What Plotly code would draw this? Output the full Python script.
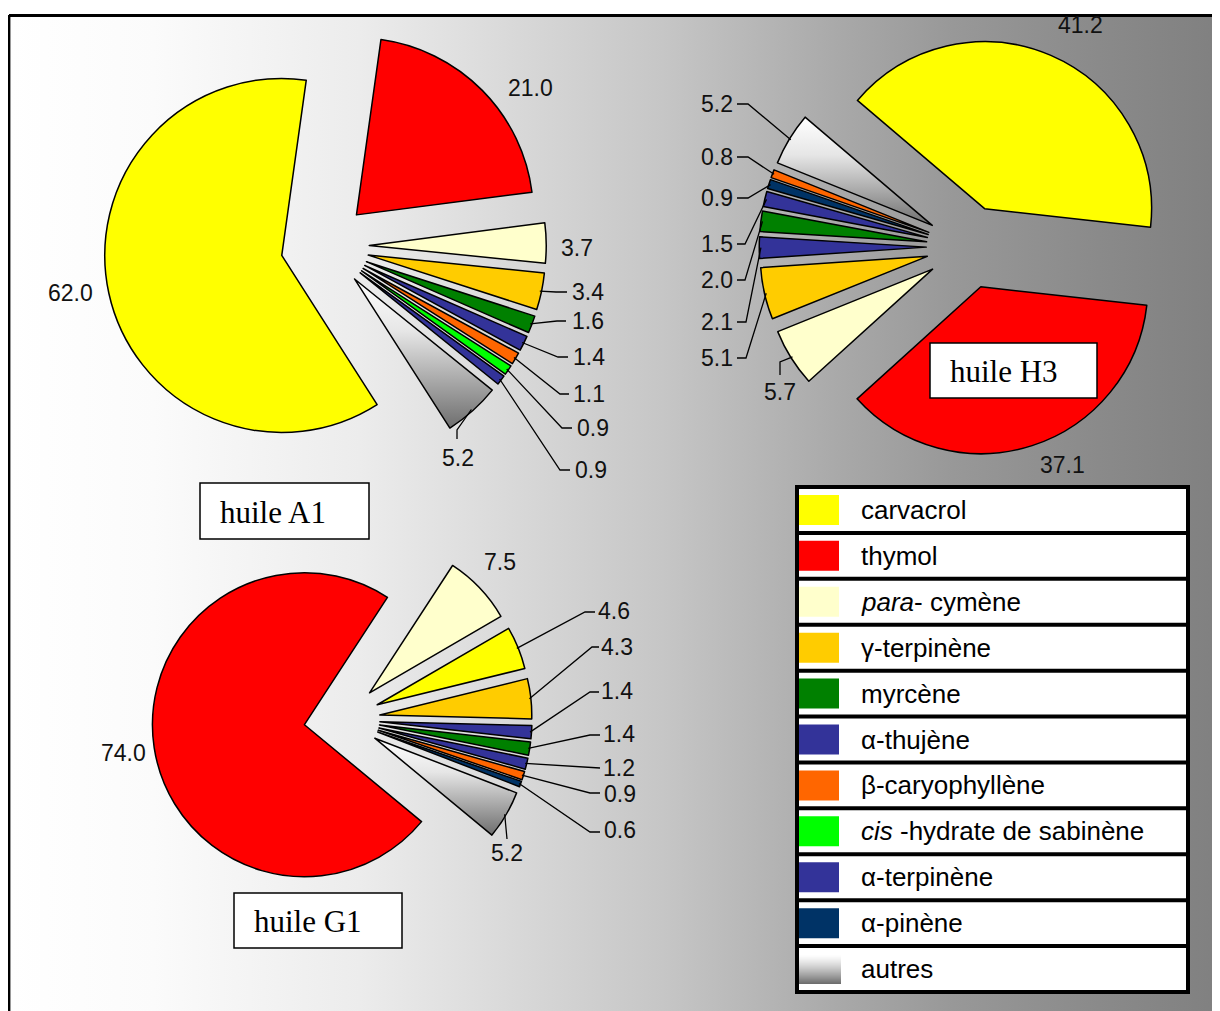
import math
import numpy as np
import plotly.graph_objects as go

# ---------------- data ----------------
CATEGORIES = ["carvacrol", "thymol", "para-cymène", "γ-terpinène", "myrcène",
              "α-thujène", "β-caryophyllène", "cis-hydrate de sabinène",
              "α-terpinène", "α-pinène", "autres"]
LEGEND_TEXT = ["carvacrol", "thymol", "<i>para</i>- cymène", "γ-terpinène", "myrcène",
               "α-thujène", "β-caryophyllène", "<i>cis</i> -hydrate de sabinène",
               "α-terpinène", "α-pinène", "autres"]
CATEGORY_COLORS = ["#FFFF00", "#FF0000", "#FFFFCC", "#FFCC00", "#008000",
                   "#333399", "#FF6600", "#00FF00", "#333399", "#003366", "GRADIENT"]

A1_COMPONENTS = ["carvacrol", "thymol", "para-cymène", "γ-terpinène", "myrcène", "α-thujène",
                 "β-caryophyllène", "cis-hydrate de sabinène", "α-terpinène", "autres"]
A1_VALUES = [62.0, 21.0, 3.7, 3.4, 1.6, 1.4, 1.1, 0.9, 0.9, 5.2]

H3_COMPONENTS = ["carvacrol", "thymol", "para-cymène", "γ-terpinène", "α-terpinène", "myrcène",
                 "α-thujène", "α-pinène", "β-caryophyllène", "autres"]
H3_VALUES = [41.2, 37.1, 5.7, 5.1, 2.1, 2.0, 1.5, 0.9, 0.8, 5.2]

G1_COMPONENTS = ["thymol", "para-cymène", "carvacrol", "γ-terpinène", "α-terpinène", "myrcène",
                 "α-thujène", "β-caryophyllène", "α-pinène", "autres"]
G1_VALUES = [74.0, 7.5, 4.6, 4.3, 1.4, 1.4, 1.2, 0.9, 0.6, 5.2]

# ---------------- layout constants ----------------
W, H = 1220, 1011
OFF = 8          # page body margin: axis units below are screen pixels
PULL = 0.25
NUM_FONT = dict(family="Liberation Sans, Arial, sans-serif", size=23, color="#111111")
SERIF = "Liberation Serif, Times New Roman, serif"

# label placement per slice: (x, y, anchor, leader elbow points)
A1_LABEL_POS = [
    (70, 293, "center", []),
    (530, 88, "center", []),
    (577, 248, "center", []),
    (570, 292, "left", [(556, 292), (567, 292)]),
    (570, 321, "left", [(557, 321), (566, 321)]),
    (571, 357, "left", [(558, 357), (568, 357)]),
    (571, 394, "left", [(560, 394), (569, 394)]),
    (575, 428, "left", [(562, 428), (572, 428)]),
    (573, 470, "left", [(560, 470), (570, 470)]),
    (458, 458, "center", [(457, 430), (457, 439)]),
]
H3_LABEL_POS = [
    (1080, 25, "center", []),
    (1062, 465, "center", []),
    (780, 392, "center", [(780, 362), (780, 375)]),
    (735, 358, "right", [(746, 358), (737, 358)]),
    (735, 322, "right", [(746, 322), (737, 322)]),
    (735, 280, "right", [(745, 280), (737, 280)]),
    (735, 244, "right", [(745, 244), (737, 244)]),
    (735, 198, "right", [(748, 198), (737, 198)]),
    (735, 157, "right", [(748, 157), (737, 157)]),
    (735, 104, "right", [(748, 104), (737, 104)]),
]
G1_LABEL_POS = [
    (123, 753, "center", []),
    (500, 562, "center", []),
    (596, 611, "left", [(585, 612), (595, 612)]),
    (599, 647, "left", [(592, 647), (599, 647)]),
    (599, 691, "left", [(590, 692), (599, 692)]),
    (601, 734, "left", [(590, 735), (600, 735)]),
    (601, 768, "left", [(600, 768)]),
    (602, 794, "left", [(590, 793), (600, 793)]),
    (602, 830, "left", [(590, 832), (600, 832)]),
    (507, 853, "center", [(507, 839)]),
]

PIES = [
    dict(comps=A1_COMPONENTS, vals=A1_VALUES, cx=325, cy=246, r=177, rot=147.4,
         labels=A1_LABEL_POS, title="huile A1", box=(200, 483, 369, 539)),
    dict(comps=H3_COMPONENTS, vals=H3_VALUES, cx=968, cy=247, r=167, rot=310.4,
         labels=H3_LABEL_POS, title="huile H3", box=(930, 343, 1097, 398)),
    dict(comps=G1_COMPONENTS, vals=G1_VALUES, cx=342, cy=719, r=152, rot=129.6,
         labels=G1_LABEL_POS, title="huile G1", box=(234, 893, 402, 948)),
]

color_of = dict(zip(CATEGORIES, CATEGORY_COLORS))


def unit(theta):
    t = math.radians(theta)
    return math.sin(t), -math.cos(t)


fig = go.Figure()
shapes = []
annotations = []

# background gradient (white -> grey, left to right)
BG_SCALE = [[0.0, "rgb(255,255,255)"], [0.12, "rgb(251,251,251)"], [0.29, "rgb(236,236,236)"],
            [0.54, "rgb(198,198,198)"], [0.69, "rgb(168,168,168)"], [0.78, "rgb(152,152,152)"],
            [0.90, "rgb(138,138,138)"], [1.0, "rgb(128,128,128)"]]
fig.add_trace(go.Scatter(x=[8, W + OFF, W + OFF, 8, 8], y=[15, 15, H + OFF, H + OFF, 15],
                         fill="toself", mode="lines", line=dict(width=0),
                         fillgradient=dict(type="horizontal", colorscale=BG_SCALE, start=8, stop=W),
                         hoverinfo="skip", showlegend=False))

for p in PIES:
    total = sum(p["vals"])
    r = p["r"]
    s = r * (1 + PULL)
    a = p["rot"]
    colors = []
    for comp, v, lab in zip(p["comps"], p["vals"], p["labels"]):
        span = 360.0 * v / total
        mid = a + span / 2
        ux, uy = unit(mid)
        tipx, tipy = p["cx"] + PULL * r * ux, p["cy"] + PULL * r * uy
        col = color_of[comp]
        if col == "GRADIENT":
            colors.append("rgba(0,0,0,0)")
            angs = np.linspace(a, a + span, 40)
            xs = [tipx] + [tipx + r * unit(t)[0] for t in angs] + [tipx]
            ys = [tipy] + [tipy + r * unit(t)[1] for t in angs] + [tipy]
            fig.add_trace(go.Scatter(x=xs, y=ys, fill="toself", mode="lines", line=dict(width=0),
                                     fillgradient=dict(type="vertical",
                                                       colorscale=[[0, "#6e6e6e"], [0.65, "#e6e6e6"],
                                                                   [1, "#ffffff"]]),
                                     hoverinfo="skip", showlegend=False))
        else:
            colors.append(col)
        # value label + leader
        lx, ly, anchor, elbows = lab
        annotations.append(dict(x=lx, y=ly, xref="x", yref="y", text=f"{v:.1f}", showarrow=False,
                                xanchor=anchor, yanchor="middle", font=NUM_FONT))
        if elbows:
            sx, sy = tipx + 0.99 * r * ux, tipy + 0.99 * r * uy
            path = f"M {sx:.1f} {sy:.1f} " + " ".join(f"L {ex} {ey}" for ex, ey in elbows)
            shapes.append(dict(type="path", path=path, xref="x", yref="y",
                               line=dict(color="black", width=1.3)))
        a += span

    pcx, pcy = p["cx"] - OFF, p["cy"] - OFF
    fig.add_trace(go.Pie(values=p["vals"], labels=p["comps"], sort=False, direction="clockwise",
                         rotation=p["rot"], pull=[PULL] * len(p["vals"]),
                         marker=dict(colors=colors, line=dict(color="black", width=1.5)),
                         textinfo="none", showlegend=False,
                         domain=dict(x=[(pcx - s) / W, (pcx + s) / W],
                                     y=[(H - pcy - s) / H, (H - pcy + s) / H])))
    # title box
    x0, y0, x1, y1 = p["box"]
    shapes.append(dict(type="rect", x0=x0, y0=y0, x1=x1, y1=y1, xref="x", yref="y",
                       fillcolor="white", line=dict(color="black", width=1.5)))
    annotations.append(dict(x=x0 + 18, y=(y0 + y1) / 2 + 1, xref="x", yref="y", text=p["title"],
                            showarrow=False, xanchor="left", yanchor="middle",
                            font=dict(family=SERIF, size=31, color="black")))

# frame lines
shapes.append(dict(type="line", x0=9, y0=15.5, x1=W + OFF, y1=15.5, xref="x", yref="y",
                   line=dict(color="black", width=3)))
shapes.append(dict(type="line", x0=9.2, y0=15, x1=9.2, y1=H + OFF, xref="x", yref="y",
                   line=dict(color="black", width=2.4)))

# legend table
LX0, LY0, LX1, LY1 = 797, 487, 1188, 992
row_h = (LY1 - LY0) / len(CATEGORIES)
shapes.append(dict(type="rect", x0=LX0, y0=LY0, x1=LX1, y1=LY1, xref="x", yref="y",
                   fillcolor="white", line=dict(color="black", width=4)))
for i, (txt, col) in enumerate(zip(LEGEND_TEXT, CATEGORY_COLORS)):
    yt = LY0 + i * row_h
    yc = yt + row_h / 2
    if i > 0:
        shapes.append(dict(type="line", x0=LX0, x1=LX1, y0=yt, y1=yt, xref="x", yref="y",
                           line=dict(color="black", width=4)))
    if col == "GRADIENT":
        n = 30
        for k in range(n):
            g = int(round(255 - (255 - 110) * (k / (n - 1)) ** 1.3))
            shapes.append(dict(type="rect", x0=799, x1=841, y0=yc - 15 + k, y1=yc - 14 + k,
                               xref="x", yref="y", fillcolor=f"rgb({g},{g},{g})",
                               line=dict(width=0)))
    else:
        shapes.append(dict(type="rect", x0=799, x1=839, y0=yc - 15, y1=yc + 15, xref="x", yref="y",
                           fillcolor=col, line=dict(width=0)))
    annotations.append(dict(x=859, y=yc, xref="x", yref="y", text=txt, showarrow=False,
                            xanchor="left", yanchor="middle",
                            font=dict(family="Liberation Sans, Arial, sans-serif", size=26,
                                      color="black")))

fig.update_layout(
    width=W, height=H, margin=dict(l=0, r=0, t=0, b=0),
    paper_bgcolor="white", plot_bgcolor="rgba(0,0,0,0)",
    xaxis=dict(range=[OFF, W + OFF], visible=False, fixedrange=True),
    yaxis=dict(range=[H + OFF, OFF], visible=False, fixedrange=True),
    shapes=shapes, annotations=annotations, showlegend=False,
)

fig.write_html("out.html")
